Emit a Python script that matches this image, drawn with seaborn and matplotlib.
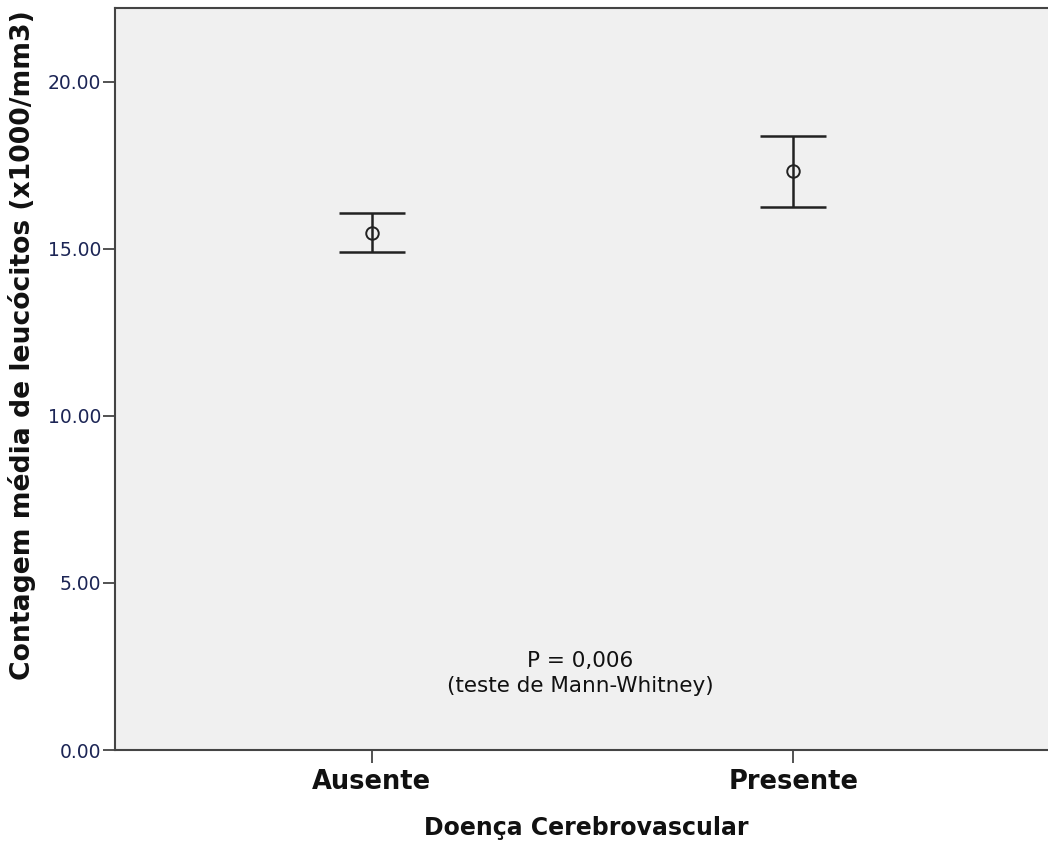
import matplotlib
matplotlib.use("Agg")
import matplotlib.pyplot as plt
import seaborn as sns
import pandas as pd

# Mean white-cell count with its confidence interval per group
groups = ["Ausente", "Presente"]
means = [15.48, 17.31]
ci_low = [14.91, 16.26]
ci_high = [16.07, 18.38]
y_ticks = [0, 5, 10, 15, 20]

df = pd.DataFrame({"grupo": groups, "media": means})

sns.set_style("white")
plt.rcParams["font.family"] = ["DejaVu Sans"]

fig = plt.figure(figsize=(10.48, 8.46), dpi=100)
ax = fig.add_axes([115 / 1048, 1 - 750 / 846, 1 - 115 / 1048 + 0.01, (750 - 8) / 846])
ax.set_facecolor("#f0f0f0")

line_col = "#222222"

sns.pointplot(data=df, x="grupo", y="media", order=groups, linestyle="none",
              marker="o", markersize=9, markerfacecolor="none",
              markeredgecolor=line_col, markeredgewidth=1.4, color=line_col,
              errorbar=None, ax=ax, zorder=3)

# confidence interval whiskers with caps
xpos = list(range(len(groups)))
yerr = [[m - lo for m, lo in zip(means, ci_low)], [hi - m for m, hi in zip(means, ci_high)]]
ax.errorbar(xpos, means, yerr=yerr, fmt="none", ecolor=line_col, elinewidth=1.8,
            capsize=24, capthick=1.8, zorder=2)

ax.set_xlim(-0.61, 1.63)
ax.set_ylim(0, 22.2)
ax.set_yticks(y_ticks)
ax.set_yticklabels([f"{v:.2f}" for v in y_ticks], fontsize=13.5, color="#1c2555")
ax.set_xticks(xpos)
ax.set_xticklabels(groups, fontsize=18.5, fontweight="bold", color="#111111")

ax.tick_params(axis="y", left=True, length=9, width=1.3, color="#444444", pad=1)
ax.tick_params(axis="x", bottom=True, length=9, width=1.3, color="#444444", pad=5)

for side in ["left", "bottom", "top"]:
    ax.spines[side].set_visible(True)
    ax.spines[side].set_color("#444444")
    ax.spines[side].set_linewidth(1.5)
ax.spines["right"].set_visible(False)

ax.set_ylabel("Contagem média de leucócitos (x1000/mm3)", fontsize=19.2,
              fontweight="bold", color="#111111")
ax.yaxis.set_label_coords(-0.084, 0.545)
ax.set_xlabel("Doença Cerebrovascular", fontsize=17, fontweight="bold",
              color="#111111", labelpad=15)

ax.text(0.495, 2.65, "P = 0,006", ha="center", va="center", fontsize=15.5, color="#111111")
ax.text(0.495, 1.9, "(teste de Mann-Whitney)", ha="center", va="center",
        fontsize=15.5, color="#111111")

fig.savefig("out.png", dpi=100)
